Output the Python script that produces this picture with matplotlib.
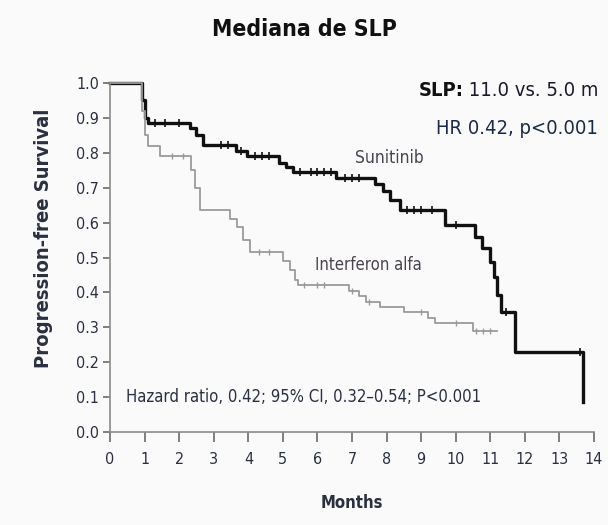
import matplotlib.pyplot as plt
import numpy as np

# Kaplan-Meier step data (time in months, survival probability)
sun_t = [0, 0.92, 1.0, 1.1, 2.3, 2.5, 2.7, 3.65, 3.95, 4.9, 5.1, 5.3, 6.55,
         7.65, 7.9, 8.1, 8.4, 9.7, 10.55, 10.75, 11.0, 11.1, 11.2, 11.3, 11.7, 13.68]
sun_s = [1.0, 0.95, 0.90, 0.885, 0.87, 0.85, 0.822, 0.805, 0.792, 0.77, 0.76, 0.745, 0.728,
         0.71, 0.69, 0.665, 0.636, 0.593, 0.56, 0.527, 0.487, 0.444, 0.393, 0.344, 0.229, 0.086]

ifn_t = [0, 0.92, 1.0, 1.1, 1.45, 2.35, 2.45, 2.6, 3.47, 3.67, 3.85, 4.05, 5.0,
         5.2, 5.35, 5.45, 6.9, 7.2, 7.4, 7.8, 8.5, 9.2, 9.4, 10.5, 11.2]
ifn_s = [1.0, 0.92, 0.85, 0.82, 0.79, 0.75, 0.70, 0.636, 0.61, 0.587, 0.55, 0.517, 0.49,
         0.464, 0.436, 0.421, 0.405, 0.39, 0.372, 0.358, 0.344, 0.327, 0.312, 0.29, 0.29]

# censoring times
sun_cens = [1.3, 1.6, 2.0, 3.2, 3.4, 3.8, 4.2, 4.4, 4.6, 5.5, 5.8, 6.0, 6.2, 6.4,
            6.8, 7.0, 7.2, 8.6, 8.8, 9.0, 9.3, 10.0, 11.45, 13.6]
ifn_cens = [1.8, 2.1, 4.3, 4.6, 5.6, 6.0, 6.2, 7.0, 7.5, 9.0, 10.0, 10.6, 10.8, 11.0]

txt = '#2b3040'
fam = 'DejaVu Sans'
st = 'condensed'

fig = plt.figure(figsize=(6.08, 5.25), dpi=100, facecolor='#fafafa')
ax = fig.add_axes([0.181, 0.177, 0.796, 0.665], facecolor='#fafafa')

ax.step(sun_t, sun_s, where='post', color='#111111', lw=2.4, clip_on=False)
ax.step(ifn_t, ifn_s, where='post', color='#9a9a9a', lw=1.3, clip_on=False)


def surv_at(t, times, surv):
    idx = np.searchsorted(times, t, side='right') - 1
    return np.array(surv)[idx]


ax.plot(sun_cens, surv_at(sun_cens, sun_t, sun_s), ls='none', marker='|',
        ms=6, mew=1.2, color='#111111', clip_on=False)
ax.plot(ifn_cens, surv_at(ifn_cens, ifn_t, ifn_s), ls='none', marker='|',
        ms=5, mew=1.0, color='#9a9a9a', clip_on=False)

ax.set_xlim(0, 14)
ax.set_ylim(0, 1.0)
ax.set_xticks(range(15))
ax.set_yticks(np.arange(0, 1.01, 0.1))
ax.set_yticklabels([f'{v:.1f}' for v in np.arange(0, 1.01, 0.1)])

for s in ['top', 'right']:
    ax.spines[s].set_visible(False)
for s in ['left', 'bottom']:
    ax.spines[s].set_color('#8a8a8a')
    ax.spines[s].set_linewidth(1.2)
ax.tick_params(axis='both', colors='#6a6a6a', labelcolor=txt, labelsize=11.5,
               length=7, width=1.2)
ax.tick_params(axis='y', length=5, pad=3)
ax.tick_params(axis='x', pad=7)
for lab in ax.get_xticklabels() + ax.get_yticklabels():
    lab.set_family(fam)
    lab.set_stretch(st)

ax.set_xlabel('Months', fontsize=12, fontweight='bold', color=txt,
              family=fam, stretch=st, labelpad=20)
ax.set_ylabel('Progression-free Survival', fontsize=14.5, fontweight='bold',
              color=txt, family=fam, stretch=st)
ax.yaxis.set_label_coords(-0.118, 0.556)

ax.text(7.09, 0.785, 'Sunitinib', fontsize=12.5, color='#4a4450',
        family=fam, stretch=st, va='center')
ax.text(5.93, 0.478, 'Interferon alfa', fontsize=12, color='#4a4450',
        family=fam, stretch=st, va='center')
ax.text(0.45, 0.1, 'Hazard ratio, 0.42; 95% CI, 0.32\u20130.54; P<0.001',
        fontsize=12, color=txt, family=fam, stretch=st, va='center')

fig.text(0.5, 0.943, 'Mediana de SLP', ha='center', va='center', fontsize=16.5,
         fontweight='bold', color='#111111', family=fam, stretch=st)
slp = fig.text(0.688, 0.818, 'SLP:', fontsize=14.5, fontweight='bold',
               color='#111111', family=fam, stretch=st)
ax.annotate(' 11.0 vs. 5.0 m', xy=(1, 0), xycoords=slp, va='bottom',
            fontsize=14.5, color='#1a1a2a', family=fam, stretch=st,
            annotation_clip=False)
fig.text(0.984, 0.745, 'HR 0.42, p<0.001', ha='right', fontsize=14.5,
         color='#1a2a4a', family=fam, stretch=st)

fig.savefig('out.png', dpi=100, facecolor=fig.get_facecolor())
